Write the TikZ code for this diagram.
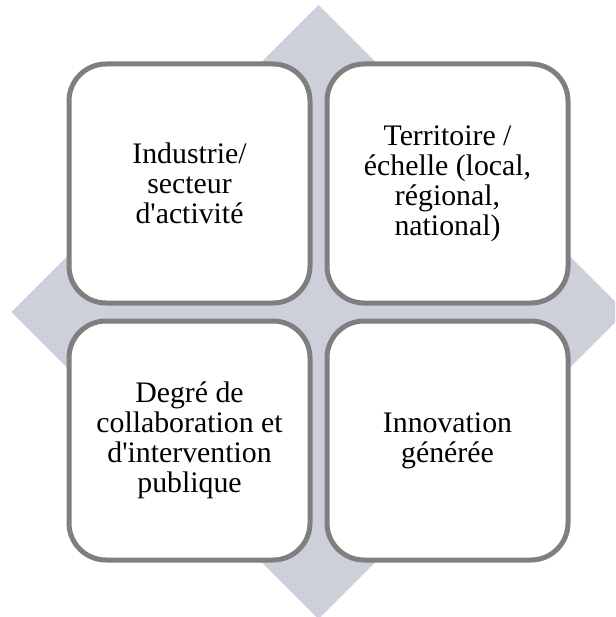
\documentclass[tikz,border=0pt]{standalone}
\usepackage{fontspec}
\setmainfont{Liberation Serif}
\usetikzlibrary{positioning,calc}

\definecolor{diamondgray}{RGB}{205,208,218}
\definecolor{cellgray}{RGB}{127,127,127}

\tikzset{
  cell/.style={draw=cellgray, line width=5pt, fill=white, rounded corners=37pt,
    minimum width=241pt, minimum height=239pt, inner sep=0pt, align=center,
    font=\fontsize{29.8pt}{30pt}\selectfont}
}

\begin{document}
\begin{tikzpicture}[x=1pt,y=-1pt]
  \useasboundingbox (0,0) rectangle (615,617);
  \clip (0,0) rectangle (615,617);
  % background diamond
  \coordinate (mid) at (318.5,312);
  \fill[diamondgray] ($(mid)+(0,-307)$) -- ($(mid)+(307,0)$) -- ($(mid)+(0,307)$) -- ($(mid)+(-307,0)$) -- cycle;
  % the four cells
  \node[cell] (industrie) at (189.5,183.5) {Industrie/\\secteur\\d\textquotesingle activité};
  \node[cell, right=12pt of industrie] (territoire) {Territoire /\\échelle (local,\\régional,\\national)};
  \node[cell, below=13pt of industrie] (degre) {Degré de\\collaboration et\\d\textquotesingle intervention\\publique};
  \node[cell, below=13pt of territoire] (innovation) {Innovation\\générée};
\end{tikzpicture}
\end{document}
